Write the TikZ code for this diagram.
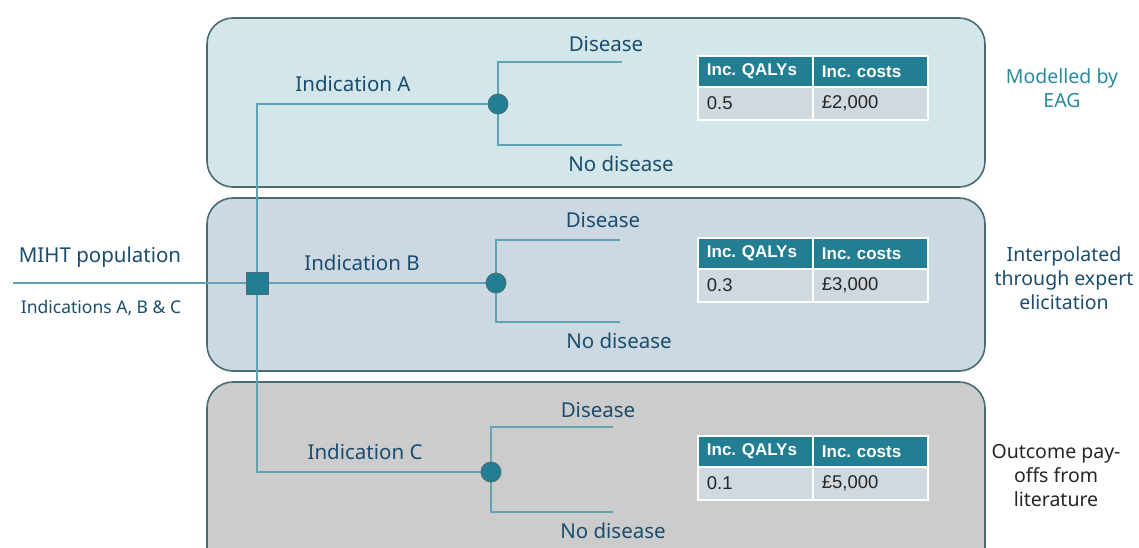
\documentclass[tikz,border=0pt]{standalone}
\usepackage{fontspec}
\setmainfont{Noto Sans}
\newfontfamily\tabfont{Liberation Sans}
\frenchspacing
\definecolor{boxA}{HTML}{D3E6EA}
\definecolor{boxB}{HTML}{CDD9E2}
\definecolor{boxC}{HTML}{CCCCCC}
\definecolor{boxline}{HTML}{4B6B73}
\definecolor{tealc}{HTML}{217E93}
\definecolor{treeline}{HTML}{5FA3B5}
\definecolor{txt}{HTML}{1B4D6E}
\definecolor{cellc}{HTML}{CFD9DF}
\definecolor{eag}{HTML}{2A8A9E}
\pgfdeclarelayer{back}
\pgfdeclarelayer{mid}
\pgfsetlayers{back,mid,main}
\tikzset{
  panel/.style={draw=boxline, line width=1.6pt, rounded corners=26pt},
  tree/.style={draw=treeline, line width=1.5pt},
  chance/.style={circle, fill=tealc, draw=boxline, line width=0.8pt, minimum size=20pt, inner sep=0pt},
  decision/.style={rectangle, fill=tealc, draw=boxline, line width=0.8pt, minimum size=22pt, inner sep=0pt},
  lbl/.style={text=txt, font=\fontsize{20.5}{24}\selectfont, inner sep=0pt},
  side/.style={font=\fontsize{19.5}{24}\selectfont, align=center, inner sep=0pt},
  hdr/.style={fill=tealc, draw=white, line width=1.8pt, text=white, font=\tabfont\fontsize{17}{20}\selectfont\bfseries, minimum width=115pt, minimum height=31pt, text width=97pt, inner xsep=9pt, align=left, anchor=north west},
  cellb/.style={fill=cellc, draw=white, line width=1.8pt, text=black!85, font=\tabfont\fontsize{18.5}{20}\selectfont, minimum width=115pt, minimum height=33pt, text width=97pt, inner xsep=9pt, align=left, anchor=north west},
}
\begin{document}
\begin{tikzpicture}[x=1pt,y=-1pt]
\useasboundingbox (0,0) rectangle (1139,547);
\clip (0,0) rectangle (1139,547);
% panels
\begin{pgfonlayer}{back}
\path[panel, fill=boxA] (207,18) rectangle (985,187);
\path[panel, fill=boxB] (207,198) rectangle (985,371);
\path[panel, fill=boxC] (207,382) rectangle (985,580);
\end{pgfonlayer}
% tree nodes
\node[decision] (sq) at (257,283) {};
\node[chance] (chA) at (498,104) {};
\node[chance] (chB) at (496,283) {};
\node[chance] (chC) at (491,472) {};
\coordinate (start) at (13,283);
\coordinate (dA) at (622,62);  \coordinate (nA) at (622,145);
\coordinate (dB) at (620,240); \coordinate (nB) at (620,322);
\coordinate (dC) at (613,427); \coordinate (nC) at (613,512);
\begin{pgfonlayer}{mid}
\draw[tree] (start) -- (chB);
\draw[tree] (chA) -| (sq);
\draw[tree] (chC) -| (sq);
\draw[tree] (chA) |- (dA);
\draw[tree] (chA) |- (nA);
\draw[tree] (chB) |- (dB);
\draw[tree] (chB) |- (nB);
\draw[tree] (chC) |- (dC);
\draw[tree] (chC) |- (nC);
\end{pgfonlayer}
% labels
\node[lbl] (pop) at (100,257) {MIHT population};
\node[lbl, font=\fontsize{17.5}{20}\selectfont] (popsub) at (101,308) {Indications A, B \& C};
\node[lbl] (iA) at (353,84) {Indication A};
\node[lbl] (iB) at (362,263) {Indication B};
\node[lbl] (iC) at (365,452) {Indication C};
\node[lbl] (disA) at (606,44) {Disease};
\node[lbl] (ndA) at (621,164) {No disease};
\node[lbl] (disB) at (603,220) {Disease};
\node[lbl] (ndB) at (619,341) {No disease};
\node[lbl] (disC) at (598,410) {Disease};
\node[lbl] (ndC) at (613,531) {No disease};
% tables
\node[hdr] (tA1) at (697,55) {Inc. QALYs};
\node[hdr] (tA2) at (812,55) {Inc. costs};
\node[cellb] (tA3) at (697,86) {0.5};
\node[cellb] (tA4) at (812,86) {£2,000};
\node[hdr] (tB1) at (697,237) {Inc. QALYs};
\node[hdr] (tB2) at (812,237) {Inc. costs};
\node[cellb] (tB3) at (697,268) {0.3};
\node[cellb] (tB4) at (812,268) {£3,000};
\node[hdr] (tC1) at (697,435) {Inc. QALYs};
\node[hdr] (tC2) at (812,435) {Inc. costs};
\node[cellb] (tC3) at (697,466) {0.1};
\node[cellb] (tC4) at (812,466) {£5,000};
% side labels
\node[side, text=eag] (sA) at (1062,88) {Modelled by\\EAG};
\node[side, text=txt] (sB) at (1064,278) {Interpolated\\through expert\\elicitation};
\node[side, text=black!85] (sC) at (1056,476) {Outcome pay-\\offs from\\literature};
\end{tikzpicture}
\end{document}
